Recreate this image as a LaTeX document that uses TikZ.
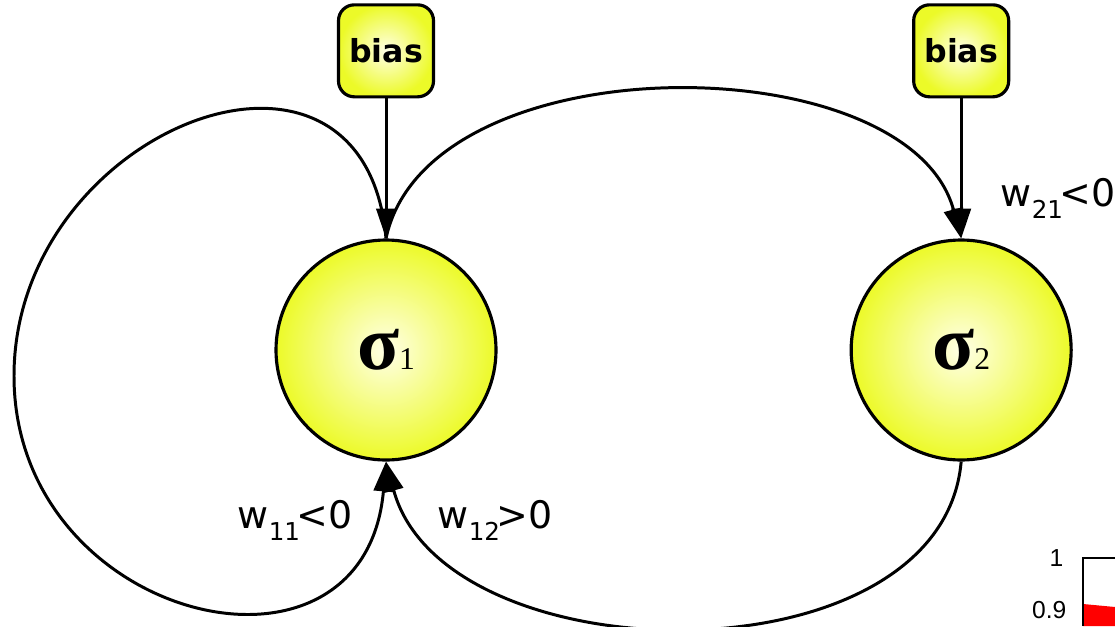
\documentclass[tikz,border=0pt]{standalone}
\usepackage{fontspec}
\usetikzlibrary{positioning, arrows.meta}
\setsansfont{DejaVu Sans}
\newfontfamily\axisfont{Liberation Sans}
\newfontfamily\greekfont{Liberation Serif}
\definecolor{cellyellow}{RGB}{236,250,40}
\definecolor{cellglow}{RGB}{255,255,230}
\definecolor{plotred}{RGB}{255,0,0}
\newcommand{\wsub}[1]{\raisebox{-0.32em}{\fontsize{7}{7}\selectfont #1}\kern-0.1em}
\newcommand{\sig}[1]{{\greekfont\bfseries\fontsize{22}{22}\selectfont σ}{\greekfont\fontsize{9}{9}\selectfont #1}}

\begin{document}
\begin{tikzpicture}[
	neuron/.style={circle, draw, line width=0.9pt, minimum size=2.2cm, inner sep=0pt, inner color=cellglow, outer color=cellyellow},
	biasbox/.style={rectangle, rounded corners=4.5pt, draw, line width=0.9pt, minimum width=0.95cm, minimum height=0.92cm, inner sep=0pt, inner color=cellglow, outer color=cellyellow, font=\sffamily\bfseries\fontsize{9}{9}\selectfont},
	wire/.style={line width=0.85pt, -{Triangle[length=8.5pt,width=5.5pt]}},
	weight/.style={anchor=base west, inner sep=0pt, font=\sffamily\fontsize{10.8}{10.8}\selectfont},
	tick/.style={anchor=east, inner sep=0pt, font=\axisfont\fontsize{7}{7}\selectfont},
]
	\useasboundingbox (0,0) rectangle (11.15,6.26);
	% cells
	\node[neuron] (s1) at (3.86,2.76) {\sig{1}};
	\node[neuron, right=3.52cm of s1] (s2) {\sig{2}};
	\node[biasbox, above=1.4cm of s1] (b1) {bias};
	\node[biasbox, above=1.4cm of s2] (b2) {bias};
	% connections
	\coordinate (loopleft) at (0.14,2.5);
	\draw[wire] (s1.north) to[out=95,in=90,looseness=1.6] (loopleft) to[out=-90,in=-95,looseness=1.65] (s1.south);
	\draw[wire] (s1.north) to[out=78,in=105,looseness=0.9] (s2.north);
	\draw[wire] (s2.south) to[out=-95,in=-75,looseness=1] (s1.south);
	\draw[wire] (b1) -- (s1);
	\draw[wire] (b2) -- (s2);
	% weights
	\node[weight] (w11) at (2.37,0.98) {w\wsub{11}<0};
	\node[weight] (w12) at (4.37,0.98) {w\wsub{12}>0};
	\node[weight] (w21) at (10.0,4.20) {w\wsub{21}<0};
	% corner of the plot
	\fill[plotred] (10.83,0) -- (10.83,0.22) -- (11.15,0.19) -- (11.15,0) -- cycle;
	\draw[line width=0.6pt] (10.83,0) -- (10.83,0.68) -- (11.15,0.68);
	\node[tick] (t1) at (10.64,0.68) {1};
	\node[tick] (t09) at (10.67,0.16) {0.9};
\end{tikzpicture}
\end{document}
